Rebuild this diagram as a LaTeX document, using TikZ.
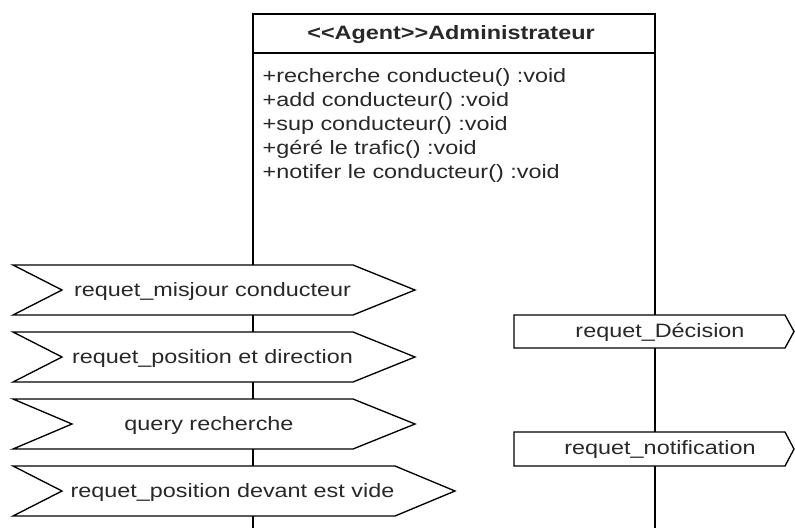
\documentclass[tikz,border=0pt]{standalone}
\usepackage{fontspec}
\setmainfont[FakeStretch=1.21]{Liberation Sans}
\definecolor{ink}{RGB}{40,40,40}
\begin{document}
\begin{tikzpicture}[x=0.75pt,y=-0.75pt,line width=1pt,
  txt/.style={font=\fontsize{14.5pt}{18pt}\selectfont, text=ink, inner sep=0pt},
  sigshape/.style={draw=black, fill=white, line join=miter},
  lifeline/.style={draw=black}]
\fill[white] (0,0) rectangle (795,528);
\useasboundingbox (0,0) rectangle (795,528);

% class box whose sides continue as the two lifelines
\draw[lifeline] (253,528) -- (253,14) -- (655,14) -- (655,528);
\draw (253,53) -- (655,53);
\node[txt, font=\fontsize{14.5pt}{18pt}\selectfont\bfseries, anchor=base] (title) at (451,39.5) {<{}<Agent>{}>Administrateur};

% operations
\node[txt, anchor=base west] (op1) at (262,82) {+recherche conducteu() :void};
\node[txt, anchor=base west] (op2) at (262,106.1) {+add conducteur() :void};
\node[txt, anchor=base west] (op3) at (262,130.2) {+sup conducteur() :void};
\node[txt, anchor=base west] (op4) at (262,154.3) {+géré le trafic() :void};
\node[txt, anchor=base west] (op5) at (262,178.4) {+notifer le conducteur() :void};

% signals on the left lifeline
\draw[sigshape] (13,265) -- (353,265) -- (415,290) -- (353,315) -- (13,315) -- (62,290) -- cycle;
\node[txt, anchor=base] (s1) at (212.5,296) {requet\_misjour conducteur};
\draw[sigshape] (13,332) -- (353,332) -- (415,357) -- (353,382) -- (13,382) -- (62,357) -- cycle;
\node[txt, anchor=base] (s2) at (212.5,363) {requet\_position et direction};
\draw[sigshape] (13,399) -- (353,399) -- (415,424) -- (353,449) -- (13,449) -- (72,424) -- cycle;
\node[txt, anchor=base] (s3) at (209,430) {query recherche};
\draw[sigshape] (13,466) -- (395,466) -- (455,491) -- (395,516) -- (13,516) -- (62,491) -- cycle;
\node[txt, anchor=base] (s4) at (232.5,497) {requet\_position devant est vide};

% signals on the right lifeline
\draw[sigshape] (514,315) -- (785,315) -- (794,331.5) -- (785,348) -- (514,348) -- cycle;
\node[txt, anchor=base] (r1) at (660,337.5) {requet\_Décision};
\draw[sigshape] (514,432) -- (785,432) -- (794,449) -- (785,466) -- (514,466) -- cycle;
\node[txt, anchor=base] (r2) at (660,454.5) {requet\_notification};
\end{tikzpicture}
\end{document}
